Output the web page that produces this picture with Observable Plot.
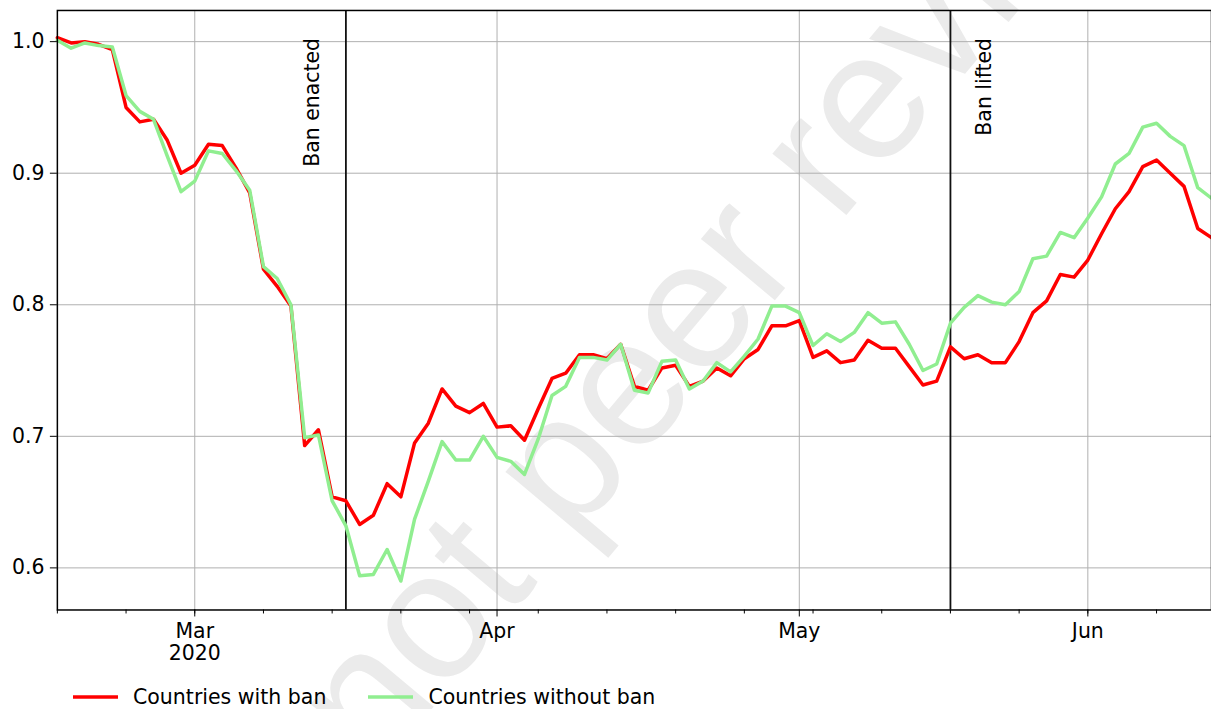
<!DOCTYPE html>
<html>
<head>
<meta charset="utf-8">
<script src="https://cdn.jsdelivr.net/npm/d3@7"></script>
<script src="https://cdn.jsdelivr.net/npm/@observablehq/plot@0.6"></script>
<style>
  html, body { margin: 0; padding: 0; background: #fff; overflow: hidden; }
  #wrap { position: relative; width: 1211px; height: 709px; overflow: hidden; font-family: "DejaVu Sans", sans-serif; }
  #watermark {
    position: absolute; left: 572px; top: 444px; z-index: 0;
    transform: translate(-50%, -50%) rotate(-50deg);
    font-family: "Liberation Sans", Arial, sans-serif; font-size: 182px;
    color: #ebebeb; white-space: nowrap; pointer-events: none;
  }
  #chart { position: absolute; left: 0; top: 0; z-index: 1; }
  #legend {
    position: absolute; left: 73px; top: 680px; height: 34px; z-index: 1;
    display: flex; align-items: center; font-size: 20.5px; color: #000;
  }
  #legend .item { display: flex; align-items: center; }
  #legend .item + .item { margin-left: 42px; }
  #legend svg { margin-right: 15px; display: block; }
</style>
</head>
<body>
<div id="wrap">
  <div id="watermark">Preprint not peer reviewed</div>
  <div id="chart"></div>
  <div id="legend"></div>
</div>
<script>
// Business days (Mon–Fri) from 17 Feb to 12 Jun 2020
const firstDay = "2020-02-17";
const lastDay = "2020-06-12";

// Index (relative to 1.0) for countries with and without the ban, one value per business day
const withBan = [
  1.003, 0.999, 1.000, 0.998, 0.994, 0.950, 0.939, 0.941, 0.925, 0.900,
  0.906, 0.922, 0.921, 0.904, 0.885, 0.827, 0.814, 0.799, 0.693, 0.705,
  0.654, 0.651, 0.633, 0.640, 0.664, 0.654, 0.695, 0.710, 0.736, 0.723,
  0.718, 0.725, 0.707, 0.708, 0.697, 0.721, 0.744, 0.748, 0.762, 0.762,
  0.759, 0.770, 0.738, 0.735, 0.752, 0.754, 0.738, 0.742, 0.752, 0.746,
  0.759, 0.766, 0.784, 0.784, 0.788, 0.760, 0.765, 0.756, 0.758, 0.773,
  0.767, 0.767, 0.753, 0.739, 0.742, 0.768, 0.759, 0.762, 0.756, 0.756,
  0.772, 0.794, 0.803, 0.823, 0.821, 0.834, 0.854, 0.873, 0.886, 0.905,
  0.910, 0.900, 0.890, 0.858, 0.851
];
const withoutBan = [
  1.001, 0.995, 0.999, 0.997, 0.996, 0.959, 0.947, 0.941, 0.913, 0.886,
  0.894, 0.917, 0.915, 0.902, 0.887, 0.829, 0.820, 0.800, 0.699, 0.701,
  0.651, 0.632, 0.594, 0.595, 0.614, 0.590, 0.637, 0.666, 0.696, 0.682,
  0.682, 0.700, 0.684, 0.681, 0.671, 0.698, 0.731, 0.738, 0.760, 0.760,
  0.758, 0.770, 0.735, 0.733, 0.757, 0.758, 0.736, 0.742, 0.756, 0.749,
  0.761, 0.774, 0.799, 0.799, 0.794, 0.769, 0.778, 0.772, 0.779, 0.794,
  0.786, 0.787, 0.770, 0.750, 0.755, 0.786, 0.798, 0.807, 0.802, 0.800,
  0.810, 0.835, 0.837, 0.855, 0.851, 0.866, 0.882, 0.907, 0.915, 0.935,
  0.938, 0.928, 0.921, 0.889, 0.881
];

const seriesNames = ["Countries with ban", "Countries without ban"];
const seriesColors = ["#ff0000", "#90ee90"];

// Month ticks (first business day of each month) and their labels
const monthDates = ["2020-03-02", "2020-04-01", "2020-05-01", "2020-06-01"];
const monthLabels = ["Mar\n2020", "Apr", "May", "Jun"];

const yTicks = [0.6, 0.7, 0.8, 0.9, 1.0];

const eventDates = ["2020-03-17", "2020-05-18"];
const eventLabels = ["Ban enacted", "Ban lifted"];

// Calendar of business days, used as an evenly spaced x index
const parse = d3.utcParse("%Y-%m-%d");
const fmt = d3.utcFormat("%Y-%m-%d");
const days = d3.utcDay.range(parse(firstDay), d3.utcDay.offset(parse(lastDay), 1))
  .filter(d => d.getUTCDay() !== 0 && d.getUTCDay() !== 6)
  .map(fmt);
const pos = date => days.indexOf(date);

// Weekly minor ticks on Mondays
const mondays = days.map((d, i) => [d, i]).filter(([d]) => parse(d).getUTCDay() === 1).map(([, i]) => i);
const monthIdx = monthDates.map(pos);
const labelOf = new Map(monthIdx.map((p, k) => [p, monthLabels[k]]));

const rows = [
  ...withBan.map((v, i) => ({series: seriesNames[0], i, v})),
  ...withoutBan.map((v, i) => ({series: seriesNames[1], i, v}))
];
const events = eventDates.map((d, k) => ({i: pos(d), label: eventLabels[k]}));

const fs = 20.5;
const grid = {stroke: "#b0b0b0", strokeOpacity: 1, strokeWidth: 1};

const chart = Plot.plot({
  width: 1214,
  height: 680,
  marginLeft: 57,
  marginRight: 0,
  marginTop: 10,
  marginBottom: 69,
  style: {fontFamily: "DejaVu Sans, sans-serif", fontSize: fs + "px", color: "#000", background: "transparent", overflow: "visible"},
  x: {domain: [0, days.length - 1]},
  y: {domain: [0.568, 1.0237]},
  marks: [
    Plot.gridX(monthIdx, grid),
    Plot.gridY(yTicks, grid),
    Plot.ruleX(events, {x: "i", stroke: "#111", strokeWidth: 1.8}),
    Plot.line(rows.filter(r => r.series === seriesNames[0]), {x: "i", y: "v", stroke: seriesColors[0], strokeWidth: 3.5}),
    Plot.line(rows.filter(r => r.series === seriesNames[1]), {x: "i", y: "v", stroke: seriesColors[1], strokeWidth: 3.5}),
    Plot.frame({stroke: "#000", strokeWidth: 1.5}),
    Plot.axisY(yTicks, {tickSize: 7, tickPadding: 6, tickFormat: d3.format(".1f"), fontSize: fs, label: null}),
    Plot.axisX(monthIdx, {tickSize: 7, tickPadding: 6, tickFormat: i => labelOf.get(i), fontSize: fs, lineHeight: 1.05, label: null}),
    Plot.axisX(mondays, {tickSize: 4, tickFormat: () => "", label: null}),
    Plot.text([events[0]], {x: "i", text: "label", frameAnchor: "top", dy: 27.5, dx: -34, rotate: -90, textAnchor: "end", lineAnchor: "middle", fontSize: fs, fill: "#000"}),
    Plot.text([events[1]], {x: "i", text: "label", frameAnchor: "top", dy: 27.5, dx: 34, rotate: -90, textAnchor: "end", lineAnchor: "middle", fontSize: fs, fill: "#000"})
  ]
});
document.getElementById("chart").append(chart);

// Legend below the plot
const legend = document.getElementById("legend");
seriesNames.forEach((name, k) => {
  const item = document.createElement("div");
  item.className = "item";
  item.innerHTML = `<svg width="45" height="8"><line x1="0" x2="45" y1="4" y2="4" stroke="${seriesColors[k]}" stroke-width="3.5"/></svg><span>${name}</span>`;
  legend.append(item);
});
</script>
</body>
</html>
